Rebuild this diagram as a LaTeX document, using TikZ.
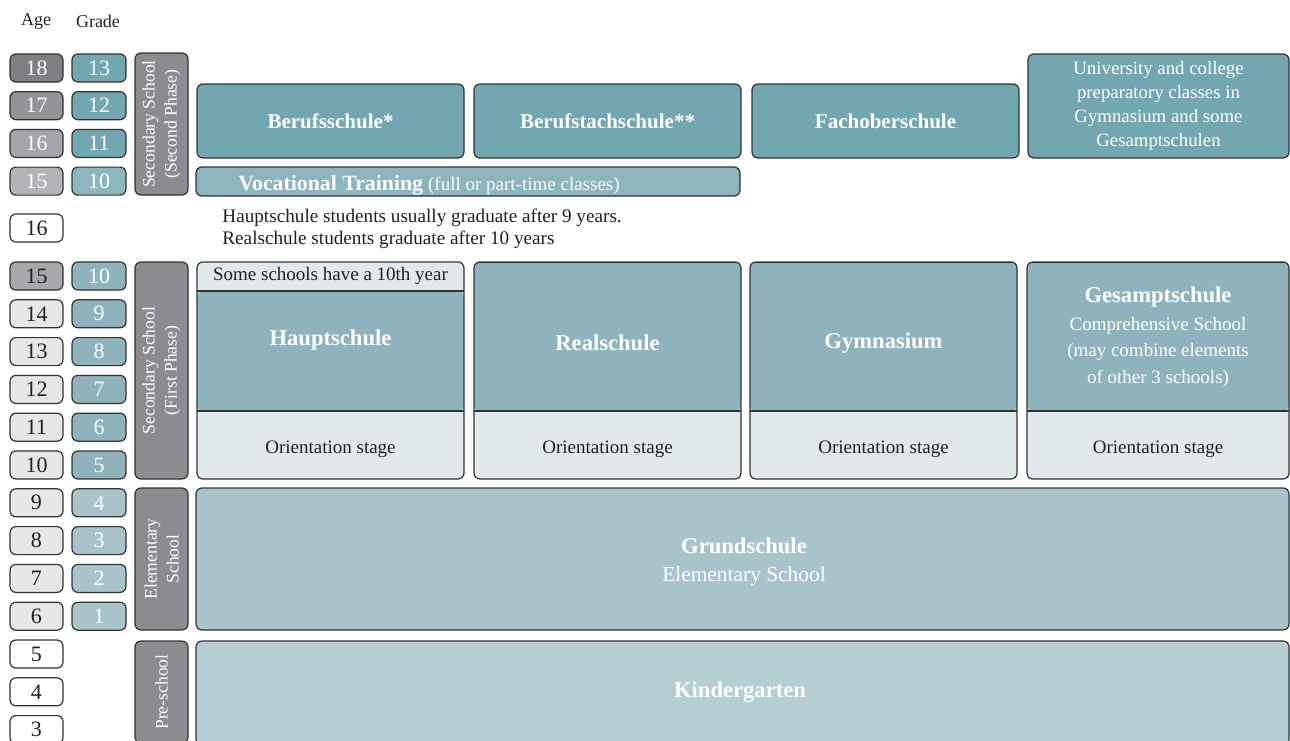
\documentclass[tikz,border=0pt]{standalone}
\usepackage{fontspec}
\setmainfont{Liberation Serif}
\usetikzlibrary{positioning}
\usetikzlibrary{calc}
\definecolor{edgegray}{RGB}{50,50,50}
\definecolor{ink}{RGB}{35,31,32}
\definecolor{tealtop}{RGB}{114,166,176}
\definecolor{tealvoc}{RGB}{140,181,189}
\definecolor{tealmid}{RGB}{143,179,188}
\definecolor{tealelem}{RGB}{168,196,202}
\definecolor{tealkind}{RGB}{181,206,212}
\definecolor{paleblue}{RGB}{225,233,236}
\definecolor{stagegray}{RGB}{138,140,143}
\definecolor{agea}{RGB}{125,127,130}
\definecolor{ageb}{RGB}{146,148,151}
\definecolor{agec}{RGB}{163,165,168}
\definecolor{aged}{RGB}{178,180,183}
\definecolor{agemid}{RGB}{167,169,172}
\definecolor{agelight}{RGB}{230,231,232}

\tikzset{
  cell/.style={draw=edgegray,line width=0.6pt,rounded corners=3pt,inner sep=0pt},
  agebox/.style={cell,minimum width=26.5pt,minimum height=14pt,font=\fontsize{11}{12}\selectfont},
  gradebox/.style={agebox,minimum width=27pt,text=white},
  stagebox/.style={cell,fill=stagegray,text=white,rotate=90,minimum height=26.5pt,align=center,font=\fontsize{8.8}{11}\selectfont},
  topbox/.style={cell,fill=tealtop,text=white,minimum width=133.5pt,minimum height=37pt,font=\fontsize{10.5}{12}\selectfont\bfseries},
  colbox/.style={cell,fill=paleblue,minimum height=108.5pt,
    path picture={
      \fill[tealmid] ([yshift=-#1]path picture bounding box.north west) rectangle ([yshift=34pt]path picture bounding box.south east);
      \draw[edgegray,line width=0.6pt] ([yshift=-#1]path picture bounding box.north west) -- ([yshift=-#1]path picture bounding box.north east);
      \draw[edgegray,line width=0.6pt] ([yshift=34pt]path picture bounding box.south west) -- ([yshift=34pt]path picture bounding box.south east);
    }},
  colbox/.default=0pt,
  bigname/.style={text=white,font=\fontsize{11.3}{13}\selectfont\bfseries},
  bodytext/.style={text=ink,font=\fontsize{9.5}{11}\selectfont},
  widebox/.style={cell,text=white,minimum width=546.5pt},
}

\begin{document}
\begin{tikzpicture}[x=0.5pt,y=-0.5pt]
	\useasboundingbox (0,0) rectangle (1290,740);
	\clip (0,0) rectangle (1290,740);

	% headings
	\node[text=ink,font=\fontsize{9}{10}\selectfont] (agehead) at (36,21) {Age};
	\node[text=ink,font=\fontsize{9}{10}\selectfont] (gradehead) at (98,21) {Grade};

	% ages and grades, second phase
	\foreach \a/\f [count=\i from 0] in {18/agea,17/ageb,16/agec,15/aged}
		\node[agebox,fill=\f,text=white] (upage\a) at (36.5,{68+37.7*\i}) {\a};
	\foreach \g/\f [count=\i from 0] in {13/tealtop,12/tealtop,11/tealtop,10/tealvoc}
		\node[gradebox,fill=\f] (upgrade\g) at (99,{68+37.7*\i}) {\g};
	\node[agebox,fill=white,text=ink] (leaveage) at (36.5,228) {16};

	% ages and grades, first phase down to pre-school
	\foreach \a/\f [count=\i from 0] in {15/agemid,14/agelight,13/agelight,12/agelight,11/agelight,10/agelight,9/agelight,8/agelight,7/agelight,6/agelight,5/white,4/white,3/white}
		\node[agebox,fill=\f,text=ink] (age\a) at (36.5,{276+37.8*\i}) {\a};
	\foreach \g/\f [count=\i from 0] in {10/tealmid,9/tealmid,8/tealmid,7/tealmid,6/tealmid,5/tealmid,4/tealelem,3/tealelem,2/tealelem,1/tealelem}
		\node[gradebox,fill=\f] (grade\g) at (99,{276+37.8*\i}) {\g};

	% stage labels
	\node[stagebox,minimum width=71pt] (phasetwo) at (161.5,124) {Secondary School\\(Second Phase)};
	\node[stagebox,minimum width=108.5pt] (phaseone) at (161.5,370.5) {Secondary School\\(First Phase)};
	\node[stagebox,minimum width=71pt] (elemstage) at (161.5,559) {Elementary\\School};
	\node[stagebox,minimum width=51pt] (prestage) at (161.5,692) {Pre-school};

	% second phase schools
	\node[topbox] (berufs) at (330.5,121) {Berufsschule*};
	\node[topbox,right=4.4pt of berufs] (berufstach) {Berufstachschule**};
	\node[topbox,right=4.9pt of berufstach] (fachober) {Fachoberschule};
	\node[cell,fill=tealtop,text=white,minimum width=130.5pt,minimum height=52pt,align=center,
		font=\fontsize{9.4}{12}\selectfont] (prep) at (1158.5,106)
		{University and college\\preparatory classes in\\Gymnasium and some\\Gesamptschulen};
	\node[cell,fill=tealvoc,minimum width=272pt,minimum height=14.5pt] (vocation) at (468,181.5) {};
	\node[anchor=west,inner sep=0pt,text=white] (vocname) at (238,185)
		{{\fontsize{10.9}{12}\selectfont\bfseries Vocational Training} {\fontsize{9.5}{11}\selectfont(full or part-time classes)}};
	\node[anchor=north west,inner sep=0pt,align=left,text=ink,font=\fontsize{9.6}{11}\selectfont] (note) at (222,209)
		{Hauptschule students usually graduate after 9 years.\\Realschule students graduate after 10 years};

	% first phase schools
	\foreach \x/\w/\s/\n in {330.5/133.5/14.5/haupt,607.5/133.5/0/real,883.5/133.5/0/gymn,1158/131/0/gesamt}
		\node[colbox=\s pt,minimum width=\w pt] (\n) at (\x,370.5) {};
	\foreach \n in {haupt,real,gymn,gesamt}
		\node[bodytext] (\n stage) at ([yshift=15pt]\n.south) {Orientation stage};
	\node[bodytext] (tenth) at ([yshift=-7.25pt]haupt.north) {Some schools have a 10th year};
	\node[bigname] (hauptname) at (330.5,340) {Hauptschule};
	\node[bigname] (realname) at (607.5,343) {Realschule};
	\node[bigname] (gymnname) at (883.5,343) {Gymnasium};
	\node[bigname] (gesamtname) at (1158,297) {Gesamptschule};
	\node[text=white,align=center,font=\fontsize{9.5}{13.25}\selectfont] (gesamtnote) at (1158,352)
		{Comprehensive School\\(may combine elements\\of other 3 schools)};

	% elementary and pre-school
	\node[widebox,fill=tealelem,minimum height=71pt] (grund) at (742.5,559) {};
	\node[bigname] (grundname) at (744,546) {Grundschule};
	\node[text=white,font=\fontsize{10.7}{12}\selectfont] (grundnote) at (744,576) {Elementary School};
	\node[widebox,fill=tealkind,minimum height=52pt] (kinder) at (742.5,693) {};
	\node[bigname] (kindername) at (740,692) {Kindergarten};
\end{tikzpicture}
\end{document}
